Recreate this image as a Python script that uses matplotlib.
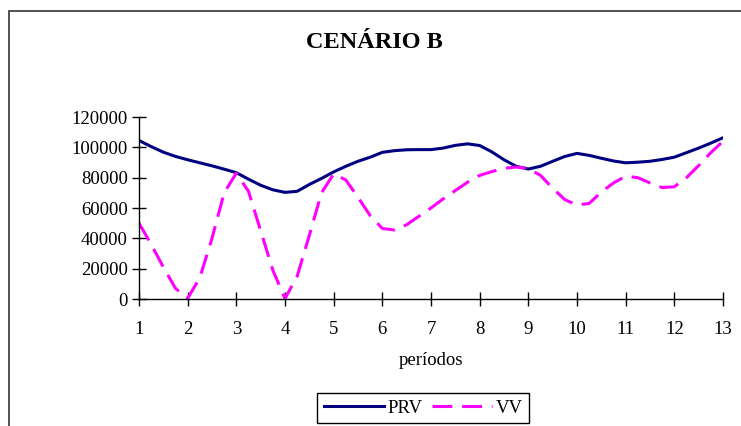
import numpy as np
import matplotlib
matplotlib.use("Agg")
import matplotlib.pyplot as plt
from matplotlib.patches import Rectangle

# periods read at quarter steps
periodos = np.arange(1, 13.25, 0.25)

prv = [104500, 100500, 96800, 94000, 91800, 89800, 87800, 85600,
       83300, 79000, 75000, 72000, 70300, 71000, 75500, 79500,
       83800, 87500, 90800, 93500, 96700, 97800, 98400, 98500,
       98500, 99500, 101300, 102300, 101200, 97000, 91800, 87500,
       85700, 87500, 90800, 94000, 96000, 94700, 92800, 91000,
       89800, 90200, 90800, 92000, 93500, 96500, 99500, 102800,
       106300]

vv = [50000, 36000, 21000, 7000, 500, 14000, 40000, 70000,
      83000, 71000, 45000, 19000, 300, 15000, 42000, 70000,
      82500, 78500, 67000, 55000, 46500, 45500, 49000, 54500,
      60000, 66000, 71500, 77000, 81500, 84000, 86200, 87000,
      86000, 81500, 73000, 65500, 62000, 63000, 70500, 76500,
      81000, 80000, 76500, 73500, 74000, 80000, 88000, 96500,
      104000]

xticks = list(range(1, 14))
yticks = [0, 20000, 40000, 60000, 80000, 100000, 120000]

plt.rcParams['font.family'] = ['Liberation Serif', 'DejaVu Serif']

fig = plt.figure(figsize=(7.41, 4.26), dpi=100)
ax = fig.add_axes([139 / 741, 1 - 299 / 426, 584 / 741, 182 / 426])

ax.plot(periodos, prv, color='#000080', lw=2.2, label='PRV')
ax.plot(periodos, vv, color='#FF00FF', lw=2.2, dashes=(6.5, 3.2), label='VV')

ax.set_xlim(1, 13)
ax.set_ylim(0, 120000)
ax.set_xticks(xticks)
ax.set_yticks(yticks)
ax.set_yticklabels([str(v) for v in yticks])
ax.tick_params(direction='inout', length=10, width=1, labelsize=13.5, pad=3)
ax.tick_params(axis='x', pad=11)
for s in ['top', 'right']:
    ax.spines[s].set_visible(False)
for s in ['left', 'bottom']:
    ax.spines[s].set_linewidth(1)

ax.set_xlabel('períodos', fontsize=13.5, labelpad=10)
fig.text(374 / 741, 1 - 43 / 426, 'CENÁRIO B', ha='center', va='center',
         fontsize=17.5, fontweight='bold')

fig.legend(loc='center', bbox_to_anchor=(423 / 741, 1 - 408 / 426), ncol=2,
           fontsize=13.5, frameon=True, fancybox=False, edgecolor='black',
           handlelength=3.2, columnspacing=0.5, handletextpad=0.2,
           borderpad=0.35, framealpha=1)

# chart-area frame
fig.patches.append(Rectangle((9 / 741, -0.1), 1.2, 1.1 - 11 / 426, fill=False,
                             lw=1.2, edgecolor='#333333',
                             transform=fig.transFigure, figure=fig))

fig.savefig('out.png', dpi=100)
